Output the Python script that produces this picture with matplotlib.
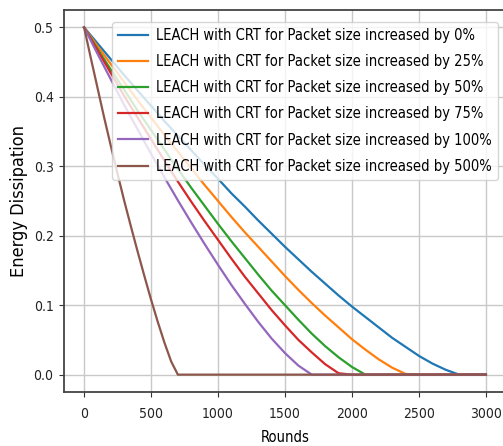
import matplotlib
matplotlib.use("Agg")
import matplotlib.pyplot as plt

plt.rcParams["font.family"] = ["DejaVu Sans"]
plt.rcParams["font.stretch"] = "condensed"

# Rounds sampled every 100
rounds = list(range(0, 3100, 100))
# the 500% curve drops fast, so it is read more finely
rounds_500 = list(range(0, 750, 50)) + [3000]

# Energy left per series
inc_0 = [0.500, 0.477, 0.454, 0.431, 0.409, 0.387, 0.365, 0.344, 0.323, 0.302,
         0.282, 0.261, 0.242, 0.222, 0.203, 0.184, 0.166, 0.148, 0.131, 0.114,
         0.098, 0.083, 0.068, 0.053, 0.040, 0.027, 0.016, 0.007, 0.000, 0.000, 0.000]
inc_25 = [0.500, 0.473, 0.447, 0.421, 0.395, 0.370, 0.345, 0.321, 0.297, 0.273,
          0.250, 0.227, 0.205, 0.184, 0.163, 0.142, 0.122, 0.103, 0.085, 0.068,
          0.051, 0.036, 0.022, 0.010, 0.001, 0.000, 0.000, 0.000, 0.000, 0.000, 0.000]
inc_50 = [0.500, 0.469, 0.439, 0.410, 0.380, 0.352, 0.324, 0.296, 0.269, 0.243,
          0.217, 0.192, 0.168, 0.144, 0.121, 0.100, 0.079, 0.059, 0.041, 0.025,
          0.011, 0.000, 0.000, 0.000, 0.000, 0.000, 0.000, 0.000, 0.000, 0.000, 0.000]
inc_75 = [0.500, 0.467, 0.434, 0.401, 0.370, 0.339, 0.308, 0.278, 0.249, 0.221,
          0.194, 0.167, 0.141, 0.117, 0.093, 0.071, 0.050, 0.032, 0.015, 0.002,
          0.000, 0.000, 0.000, 0.000, 0.000, 0.000, 0.000, 0.000, 0.000, 0.000, 0.000]
inc_100 = [0.500, 0.462, 0.425, 0.388, 0.353, 0.318, 0.284, 0.251, 0.219, 0.188,
           0.158, 0.129, 0.102, 0.076, 0.052, 0.031, 0.013, 0.000, 0.000, 0.000,
           0.000, 0.000, 0.000, 0.000, 0.000, 0.000, 0.000, 0.000, 0.000, 0.000, 0.000]
inc_500 = [0.500, 0.456, 0.413, 0.370, 0.329, 0.289, 0.250, 0.213, 0.177, 0.142,
           0.108, 0.076, 0.046, 0.019, 0.000, 0.000]

series = [(rounds, inc_0), (rounds, inc_25), (rounds, inc_50),
          (rounds, inc_75), (rounds, inc_100), (rounds_500, inc_500)]
pct = ["0", "25", "50", "75", "100", "500"]

fig = plt.figure(figsize=(5.03, 4.46), dpi=100)
ax = fig.add_axes([64 / 503, 54 / 446, 442 / 503, 382 / 446])

for (xs, vals), p in zip(series, pct):
    ax.plot(xs, vals, linewidth=1.6,
            label="LEACH with CRT for Packet size increased by " + p + "%")

ax.grid(True, color="#c8c8c8", linewidth=1.0)
ax.set_xticks([0, 500, 1000, 1500, 2000, 2500, 3000])
ax.set_yticks([0.0, 0.1, 0.2, 0.3, 0.4, 0.5])
ax.tick_params(labelsize=10, colors="#333333", labelcolor="#222222", pad=4)
ax.tick_params(axis="x", pad=7)
for s in ax.spines.values():
    s.set_color("#444444")
    s.set_linewidth(1.3)

ax.set_xlabel("Rounds", fontsize=10.5, labelpad=7)
ax.set_ylabel("Energy Dissipation", fontsize=13, labelpad=4)

ax.legend(loc="upper right", bbox_to_anchor=(0.982, 0.969), borderaxespad=0,
          fontsize=10.5, labelspacing=0.77, handlelength=2.05, handletextpad=0.6,
          borderpad=0.4, framealpha=0.8)

fig.savefig("out.png", dpi=100)
